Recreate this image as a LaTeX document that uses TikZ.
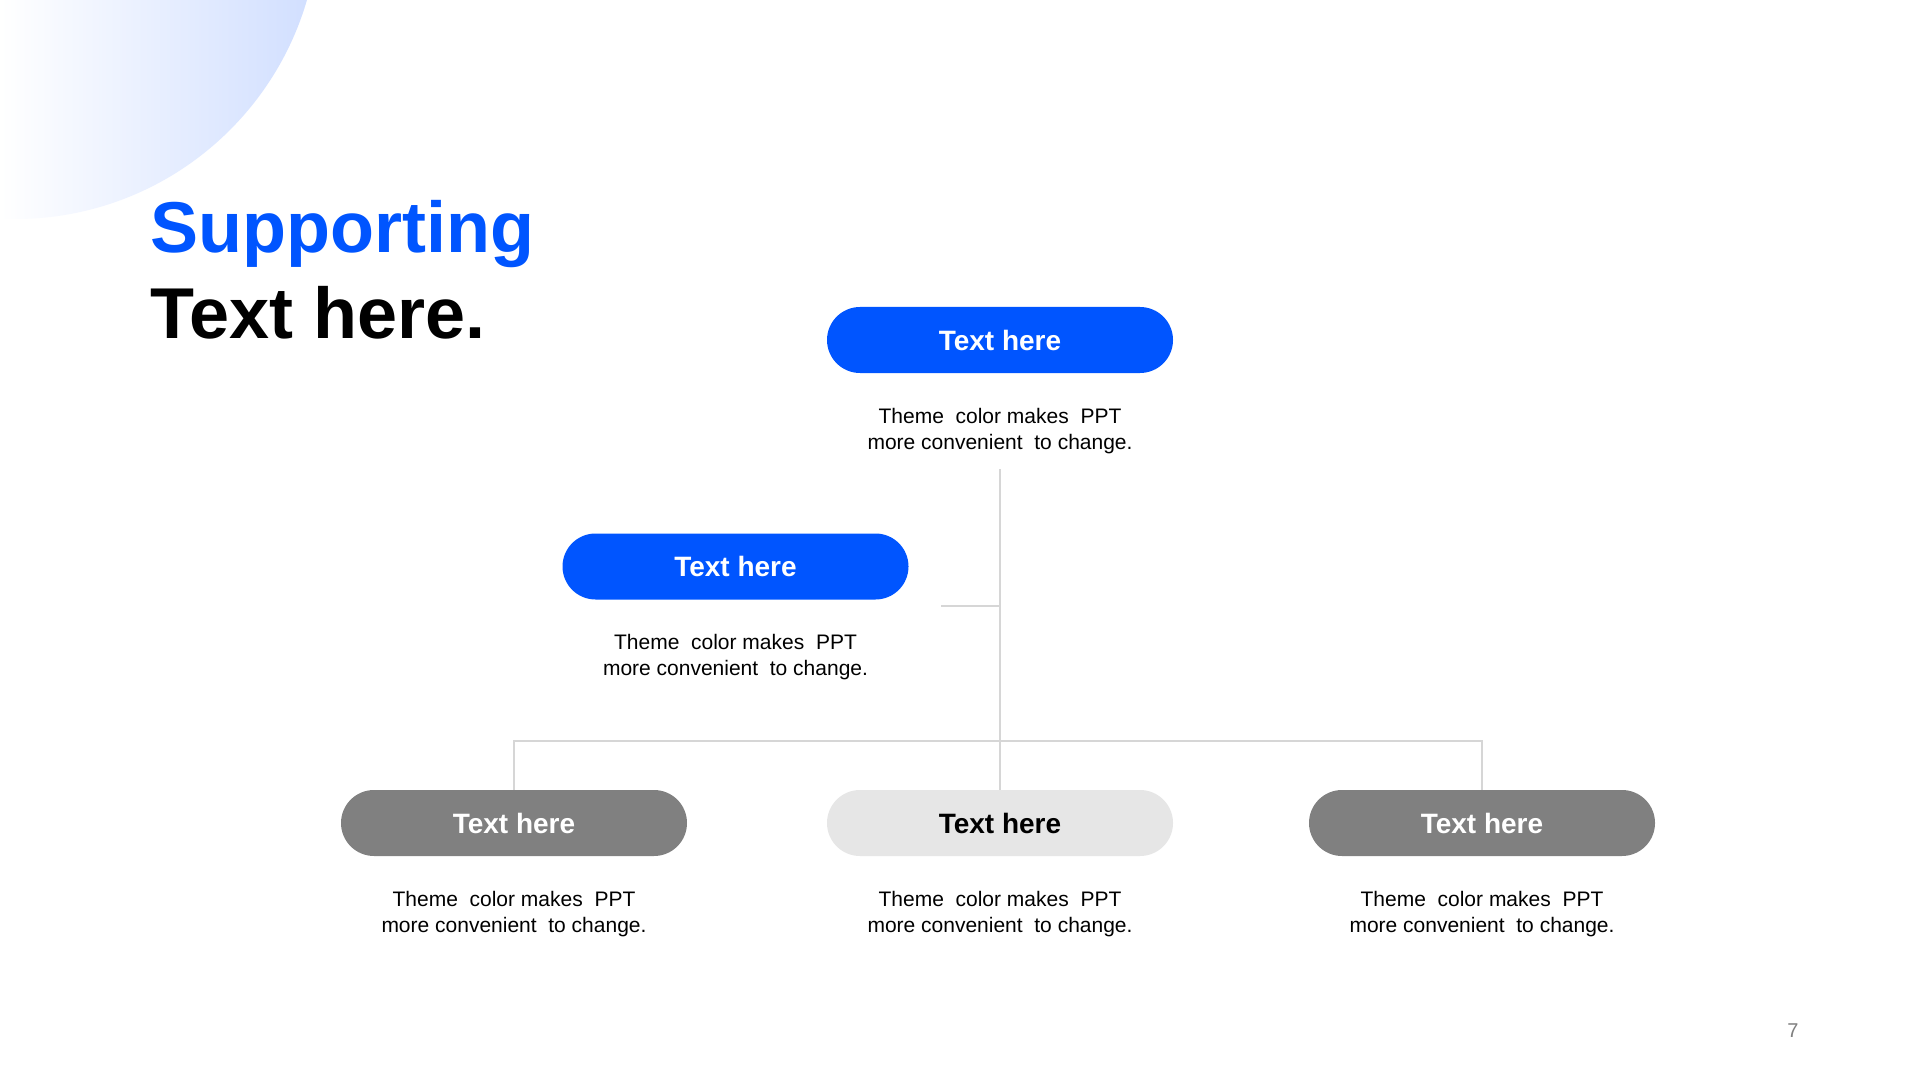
\documentclass[tikz,border=0pt]{standalone}
\usepackage{fontspec}
\setmainfont{Liberation Sans}
\usepackage{tikz}
\usetikzlibrary{positioning}
\definecolor{themeblue}{RGB}{0,85,255}
\definecolor{pillgray}{RGB}{128,128,128}
\definecolor{pilllight}{RGB}{230,230,230}
\definecolor{linegray}{RGB}{214,214,214}
\definecolor{glowblue}{RGB}{208,222,255}
\definecolor{pagegray}{RGB}{128,128,128}

\begin{document}
\begin{tikzpicture}[
      x=0.5pt, y=-0.5pt,
      node distance=17pt,
      pill/.style={rounded corners=16.5pt, minimum width=173pt, minimum height=33pt,
                   inner sep=0pt, font=\fontsize{14}{16}\selectfont\bfseries, text=white},
      desc/.style={inner sep=0pt, align=center, font=\fontsize{10.5}{13}\selectfont},
      title/.style={anchor=base west, inner sep=0pt, font=\fontsize{36}{43}\selectfont\bfseries},
      link/.style={draw=linegray, line width=0.75pt},
    ]
    \useasboundingbox[fill=white] (0,0) rectangle (1920,1080);
    \begin{scope}
      \clip (15,-85) circle[radius=152pt];
      \shade[left color=white, right color=glowblue] (0,-100) rectangle (320,230);
    \end{scope}

    \node[title, text=themeblue] (h1) at (150,253) {Supporting};
    \node[title] (h2) at (150,339) {Text here.};

    \node[pill, fill=themeblue] (a) at (1000,340) {Text here};
    \node[desc, below=of a] (ta) {Theme\ \ color makes\ \ PPT\\more convenient\ \ to change.};
    \node[pill, fill=themeblue] (b) at (735.5,566.5) {Text here};
    \node[desc, below=of b] (tb) {Theme\ \ color makes\ \ PPT\\more convenient\ \ to change.};
    \node[pill, fill=pillgray] (c) at (514,823) {Text here};
    \node[desc, below=of c] (tc) {Theme\ \ color makes\ \ PPT\\more convenient\ \ to change.};
    \node[pill, fill=pilllight, text=black] (d) at (1000,823) {Text here};
    \node[desc, below=of d] (td) {Theme\ \ color makes\ \ PPT\\more convenient\ \ to change.};
    \node[pill, fill=pillgray] (e) at (1482,823) {Text here};
    \node[desc, below=of e] (te) {Theme\ \ color makes\ \ PPT\\more convenient\ \ to change.};

    \coordinate (trunk) at (1000,469);
    \coordinate (tee) at (941,606);
    \coordinate (fork) at (1000,741);
    \draw[link] (trunk) -- (d.north);
    \draw[link] (tee) -- (tee -| d.north);
    \draw[link] (c.north) -- (c.north |- fork) -- (e.north |- fork) -- (e.north);

    \node[font=\fontsize{10}{12}\selectfont, text=pagegray, anchor=base] (pg) at (1793,1037) {7};
  \end{tikzpicture}
\end{document}
